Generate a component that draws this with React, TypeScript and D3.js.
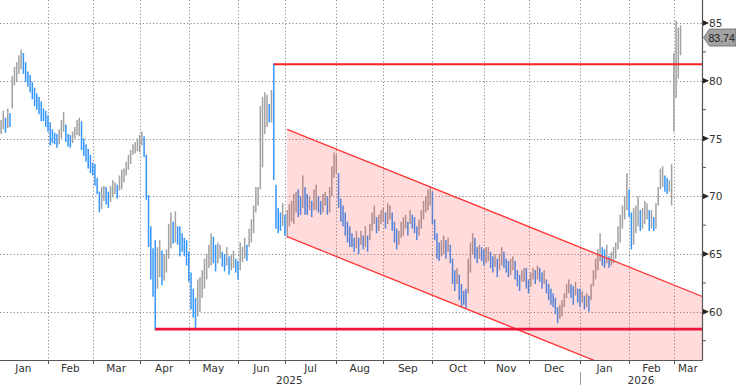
import React, { useMemo } from 'react';
import * as d3 from 'd3';

// ---- Data ----
const LOWS = [
  75.0, 75.4, 75.8, 75.5, 75.9, 76.0, 77.6, 79.6, 79.9, 80.6, 81.0, 80.6, 79.9, 79.5, 79.0, 78.4, 77.8, 77.5, 77.1, 76.5,
  76.5, 76.0, 75.6, 74.4, 74.6, 74.5, 74.2, 74.5, 75.0, 75.6, 74.7, 74.3, 74.2, 74.6, 75.0, 75.3, 75.2, 74.0, 73.5, 73.0,
  72.4, 72.0, 71.8, 70.9, 70.2, 68.6, 68.9, 69.6, 69.3, 69.0, 69.5, 69.9, 70.2, 69.8, 70.5, 70.6, 71.2, 71.8, 72.3, 72.8,
  73.6, 73.7, 73.9, 73.8, 74.4, 73.4, 69.7, 65.6, 62.8, 61.3, 58.4, 62.0, 63.0, 62.3, 62.7, 63.4, 64.6, 65.5, 65.9, 66.0,
  65.8, 64.8, 65.2, 64.8, 64.0, 62.6, 60.2, 59.5, 58.6, 59.6, 60.0, 61.2, 62.0, 62.8, 63.8, 64.0, 64.2, 63.5, 64.2, 64.6,
  63.9, 63.5, 64.0, 63.2, 63.6, 63.8, 63.4, 62.8, 63.6, 64.3, 64.6, 64.4, 65.6, 66.0, 66.8, 68.6, 69.2, 70.6, 72.5, 75.4,
  76.0, 76.4, 76.4, 71.4, 67.2, 66.8, 67.0, 67.4, 66.6, 66.4, 67.4, 67.8, 67.6, 68.6, 68.2, 68.4, 69.0, 68.4, 68.4, 68.8,
  68.2, 68.8, 68.8, 68.6, 68.4, 68.6, 69.2, 68.4, 68.6, 70.0, 71.6, 72.0, 69.0, 67.8, 67.4, 66.6, 66.0, 65.6, 65.6, 65.2,
  65.5, 65.0, 65.8, 65.4, 65.6, 65.2, 66.2, 67.0, 67.6, 66.8, 67.0, 67.6, 67.8, 67.2, 67.6, 68.0, 67.0, 66.0, 65.4, 65.8,
  66.4, 66.6, 67.2, 66.6, 67.6, 67.2, 66.8, 66.2, 66.6, 67.2, 68.0, 68.6, 68.8, 69.2, 67.6, 66.2, 64.6, 64.4, 64.8, 65.0,
  64.6, 65.2, 64.2, 62.4, 61.8, 62.4, 61.0, 60.4, 60.6, 60.3, 61.6, 63.4, 65.0, 64.6, 64.2, 64.6, 64.4, 64.0, 64.2, 64.4,
  63.8, 63.4, 63.9, 63.0, 63.6, 64.0, 63.8, 63.4, 63.0, 63.2, 63.6, 62.8, 62.2, 61.8, 62.6, 62.6, 62.0, 61.6, 62.2, 62.8,
  62.4, 62.8, 62.6, 62.0, 62.4, 61.6, 61.0, 60.6, 60.4, 59.8, 59.0, 59.4, 59.6, 60.4, 61.2, 61.6, 61.2, 60.6, 61.4, 60.8,
  60.4, 60.8, 60.2, 60.4, 60.0, 61.0, 62.2, 62.8, 63.6, 64.4, 64.0, 63.8, 64.2, 63.8, 64.0, 64.2, 64.6, 65.4, 66.0, 67.2,
  68.0, 68.8, 68.2, 65.4, 65.8, 66.8, 67.4, 67.0, 67.2, 67.6, 68.0, 67.0, 67.2, 67.0, 67.2, 69.2, 70.6, 70.8, 70.4, 70.2,
  70.4, 69.2, 75.6, 78.5, 80.2, 82.2,
];
const HIGHS = [
  76.3, 76.6, 77.4, 76.8, 77.6, 77.2, 80.4, 81.2, 81.6, 82.2, 82.7, 82.4, 81.6, 80.8, 80.5, 79.9, 79.4, 78.9, 78.6, 78.2,
  77.6, 77.4, 77.0, 76.4, 75.8, 75.5, 75.4, 75.8, 76.6, 77.3, 76.2, 75.4, 75.3, 75.6, 76.0, 76.6, 76.8, 76.5, 75.0, 74.5,
  74.1, 73.6, 72.9, 72.8, 71.6, 70.4, 70.8, 70.9, 70.8, 70.4, 70.9, 71.4, 71.2, 71.0, 71.8, 72.3, 72.4, 73.0, 73.6, 74.0,
  74.5, 74.7, 75.0, 75.3, 75.6, 75.2, 73.6, 70.1, 67.4, 65.5, 66.2, 65.6, 66.2, 65.3, 65.0, 65.4, 67.6, 68.6, 67.8, 68.7,
  67.4, 67.4, 66.8, 66.4, 66.2, 65.2, 63.4, 62.0, 61.2, 62.8, 63.0, 63.6, 64.6, 65.0, 65.8, 66.8, 66.5, 65.8, 66.0, 65.8,
  65.2, 65.0, 65.6, 64.8, 64.9, 65.3, 64.6, 64.4, 66.0, 65.6, 66.4, 65.8, 67.2, 68.0, 69.2, 70.8, 70.8, 77.8, 78.6, 79.0,
  78.8, 78.0, 79.2, 81.5, 71.0, 69.0, 68.6, 69.4, 68.4, 68.8, 69.3, 69.6, 70.2, 70.4, 70.6, 70.0, 71.8, 70.8, 70.2, 70.0,
  69.6, 70.6, 71.0, 70.0, 69.6, 70.2, 70.4, 70.0, 70.8, 72.6, 73.8, 73.6, 72.0, 69.8, 69.2, 68.6, 67.8, 67.4, 66.8, 66.4,
  67.0, 66.4, 67.0, 66.6, 67.4, 66.6, 67.6, 68.6, 69.2, 68.2, 68.4, 68.8, 69.0, 68.6, 69.4, 69.2, 68.6, 67.8, 67.2, 67.0,
  67.8, 68.2, 68.4, 67.8, 68.8, 68.4, 68.2, 67.4, 68.0, 68.8, 69.6, 70.0, 70.6, 70.8, 70.4, 68.0, 66.8, 66.0, 66.2, 66.6,
  66.2, 66.4, 65.8, 64.6, 63.6, 63.8, 63.2, 62.4, 61.8, 62.0, 64.6, 66.0, 66.8, 66.4, 65.6, 65.8, 65.6, 65.4, 65.6, 65.6,
  65.2, 64.8, 65.0, 64.6, 65.0, 65.6, 65.2, 64.6, 64.4, 64.6, 64.8, 64.4, 63.6, 63.2, 63.6, 63.8, 63.8, 62.8, 63.4, 63.8,
  63.6, 64.0, 63.8, 63.4, 63.6, 62.8, 62.4, 62.0, 61.6, 61.2, 60.4, 60.6, 61.0, 61.6, 62.4, 62.8, 62.4, 62.2, 62.6, 62.0,
  62.0, 61.8, 61.4, 61.6, 61.4, 62.4, 63.6, 64.6, 65.4, 66.8, 65.6, 65.4, 65.8, 64.8, 65.2, 65.6, 66.0, 67.4, 68.4, 69.2,
  70.0, 72.0, 70.6, 68.6, 69.0, 69.2, 70.0, 68.8, 69.0, 69.6, 69.4, 68.8, 68.8, 68.2, 69.4, 70.8, 72.4, 72.6, 71.8, 71.6,
  71.4, 72.8, 82.4, 85.2, 84.6, 84.8,
];
const LAST_PRICE = 83.74;
const FIRST_DATE = '2025-01-02';
const MONTH_LABELS = ['Jan', 'Feb', 'Mar', 'Apr', 'May', 'Jun', 'Jul', 'Aug', 'Sep', 'Oct', 'Nov', 'Dec', 'Jan', 'Feb', 'Mar'];
const YEAR_LABELS = ['2025', '2026'];
const Y_TICKS = [60, 65, 70, 75, 80, 85];
const Y_MINOR = [57.5, 62.5, 67.5, 72.5, 77.5, 82.5];
const RESISTANCE_LEVEL = 81.43;
const RESISTANCE_START = 123;
const SUPPORT_LEVEL = 58.5;
const SUPPORT_START = 70;
const CHANNEL_IDX = [129, 315];
const CHANNEL_UPPER = [75.8, 61.3];
const CHANNEL_LOWER = [66.5, 52.0];

function weekdays(start: string, count: number): Date[] {
  const out: Date[] = [];
  const d = new Date(start + 'T12:00:00');
  while (out.length < count) {
    const wd = d.getDay();
    if (wd !== 0 && wd !== 6) out.push(new Date(d));
    d.setDate(d.getDate() + 1);
  }
  return out;
}

export default function App() {
  const W = 736, H = 385;
  const plotR = 702, plotB = 360;

  const dates = useMemo(() => weekdays(FIRST_DATE, 330), []);
  const x = d3.scaleLinear().domain([0, 314.6]).range([-1.2, plotR]);
  const y = d3.scaleLinear().domain([60, 85]).range([311.8, 23]);

  const boundaries: number[] = [];
  for (let i = 1; i < dates.length; i++) {
    if (dates[i].getMonth() !== dates[i - 1].getMonth()) boundaries.push(i);
    if (boundaries.length >= MONTH_LABELS.length - 1) break;
  }
  const bx = boundaries.map((i) => x(i));
  const edges = [x(0), ...bx, plotR];
  const yearBoundaryIdx = boundaries.find((i) => dates[i].getFullYear() === 2026)!;
  const yb = x(yearBoundaryIdx);

  const bars = HIGHS.map((hi, i) => {
    const lo = LOWS[i];
    const mid = (hi + lo) / 2;
    const prev = i > 0 ? (HIGHS[i - 1] + LOWS[i - 1]) / 2 : mid;
    return { i, hi, lo, down: mid < prev };
  });

  const chanArea = d3
    .area<number>()
    .x((_, k) => x(CHANNEL_IDX[k]))
    .y0((_, k) => y(CHANNEL_LOWER[k]))
    .y1((_, k) => y(CHANNEL_UPPER[k]));
  const lineU = d3.line<number>().x((_, k) => x(CHANNEL_IDX[k])).y((v) => y(v));

  const tagY = y(LAST_PRICE);
  const font = 'DejaVu Sans, Verdana, sans-serif';

  return (
    <svg
      width={W}
      height={H}
      style={{ position: 'fixed', left: 0, top: 0, background: '#fff' }}
      fontFamily={font}
    >
      <defs>
        <clipPath id="plot">
          <rect x={0} y={0} width={plotR} height={plotB} />
        </clipPath>
      </defs>
      <rect x={0} y={0} width={W} height={H} fill="#fff" />
      <g stroke="#8c8c8c" strokeWidth={1} strokeDasharray="1.2,2.2">
        {Y_TICKS.map((t) => (
          <line key={t} x1={0} x2={plotR} y1={Math.round(y(t)) + 0.5} y2={Math.round(y(t)) + 0.5} />
        ))}
        {bx.map((v, k) => (
          <line key={k} x1={Math.round(v) + 0.5} x2={Math.round(v) + 0.5} y1={0} y2={plotB} />
        ))}
      </g>
      <g clipPath="url(#plot)">
        {bars.map((b) => (
          <rect
            key={b.i}
            x={x(b.i) - 0.75}
            width={1.5}
            y={y(b.hi)}
            height={Math.max(1, y(b.lo) - y(b.hi))}
            fill={b.down ? '#3696fa' : '#a2a2a2'}
          />
        ))}
        <path d={chanArea([0, 1]) || ''} fill="#ff2a2a" fillOpacity={0.17} />
        <path d={lineU(CHANNEL_UPPER) || ''} fill="none" stroke="#ff3535" strokeWidth={1.3} />
        <path d={lineU(CHANNEL_LOWER) || ''} fill="none" stroke="#ff3535" strokeWidth={1.3} />
        <line
          x1={x(RESISTANCE_START)}
          x2={plotR}
          y1={y(RESISTANCE_LEVEL)}
          y2={y(RESISTANCE_LEVEL)}
          stroke="#ff1f1f"
          strokeWidth={1.8}
        />
        <line
          x1={x(SUPPORT_START)}
          x2={plotR}
          y1={y(SUPPORT_LEVEL)}
          y2={y(SUPPORT_LEVEL)}
          stroke="#f0143c"
          strokeWidth={2.6}
        />
      </g>
      <line x1={0} x2={plotR + 0.5} y1={plotB + 0.5} y2={plotB + 0.5} stroke="#555" strokeWidth={1} />
      <line x1={plotR + 0.5} x2={plotR + 0.5} y1={0} y2={plotB + 0.5} stroke="#555" strokeWidth={1.2} />
      {bx.map((v, k) => (
        <line key={k} x1={Math.round(v) + 0.5} x2={Math.round(v) + 0.5} y1={plotB} y2={plotB + 4} stroke="#555" />
      ))}
      {MONTH_LABELS.map((m, k) => (
        <text
          key={k}
          x={(edges[k] + edges[k + 1]) / 2}
          y={372}
          textAnchor="middle"
          fontSize={10.5}
          fill="#333"
        >
          {m}
        </text>
      ))}
      <text x={(x(0) + yb) / 2} y={384} textAnchor="middle" fontSize={10.5} fill="#333">
        {YEAR_LABELS[0]}
      </text>
      <text x={(yb + plotR) / 2} y={384} textAnchor="middle" fontSize={10.5} fill="#333">
        {YEAR_LABELS[1]}
      </text>
      <line x1={Math.round(yb) + 0.5} x2={Math.round(yb) + 0.5} y1={372} y2={H} stroke="#999" />
      {Y_MINOR.map((t) => (
        <line key={t} x1={plotR} x2={plotR + 4} y1={y(t)} y2={y(t)} stroke="#555" />
      ))}
      {Y_TICKS.map((t) => (
        <g key={t}>
          <path d={`M${plotR + 1},${y(t) - 2.8}L${plotR + 7},${y(t)}L${plotR + 1},${y(t) + 2.8}Z`} fill="#222" />
          <text x={709} y={y(t) + 4} fontSize={10.5} fill="#333">
            {t}
          </text>
        </g>
      ))}
      <path
        d={`M${plotR + 1.5},${tagY}L${plotR + 7.5},${tagY - 8.5}L${W},${tagY - 8.5}L${W},${tagY + 8.5}L${plotR + 7.5},${tagY + 8.5}Z`}
        fill="#a3a3a3"
        stroke="#666"
        strokeWidth={0.8}
      />
      <text
        x={708.5}
        y={tagY + 4}
        fontSize={10.5}
        fontFamily="Liberation Sans, Arial, sans-serif"
        fill="#1a1a1a"
      >
        {LAST_PRICE.toFixed(2)}
      </text>
    </svg>
  );
}
